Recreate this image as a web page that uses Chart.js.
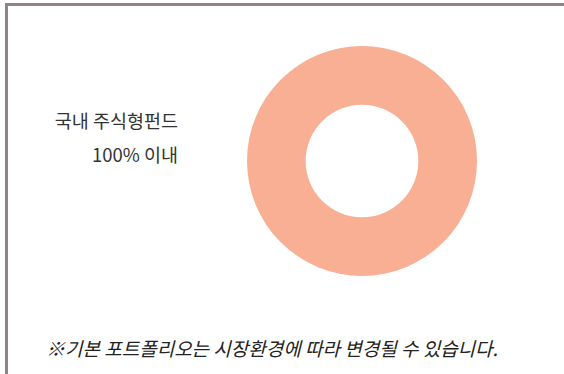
<!DOCTYPE html>
<html>
<head>
<meta charset="utf-8">
<script src="https://cdn.jsdelivr.net/npm/chart.js@4/dist/chart.umd.min.js"></script>
<style>
  html, body { margin: 0; padding: 0; background: #fff; }
  body { width: 564px; height: 374px; position: relative; overflow: hidden; }
  .frame { position: absolute; left: 5px; top: 3px; width: 562px; height: 368px;
           border-top: 3px solid #928486; border-left: 3px solid #928486;
           border-bottom: 2px solid #ececec; box-sizing: content-box; }
  .wrap { position: absolute; left: 247px; top: 46px; width: 230px; height: 230px; }
  .label { position: absolute; left: 18px; width: 160px; text-align: right;
           font-family: "Noto Sans CJK KR", "Noto Sans", sans-serif; font-size: 18.5px;
           color: #333; line-height: 22px; }
  .note { position: absolute; left: 46px; top: 336px; white-space: nowrap;
          font-family: "Noto Sans CJK KR", "Noto Sans", sans-serif; font-size: 19px;
          font-style: italic; color: #222; line-height: 24px; }
</style>
</head>
<body>
<div class="frame"></div>
<div class="label" style="top:109px">국내 주식형펀드</div>
<div class="label" style="top:143px">100% 이내</div>
<div class="note">※기본 포트폴리오는 시장환경에 따라 변경될 수 있습니다.</div>
<div class="wrap"><canvas id="c" width="230" height="230"></canvas></div>
<script>
const categories = ['국내 주식형펀드'];
const shares = [100];
const sliceColors = ['#F9AF93'];

new Chart(document.getElementById('c').getContext('2d'), {
    type: 'doughnut',
    data: {
        labels: categories,
        datasets: [{ data: shares, backgroundColor: sliceColors, borderWidth: 0 }]
    },
    options: {
        responsive: false,
        animation: false,
        cutout: '49%',
        layout: { padding: 0 },
        plugins: { legend: { display: false }, tooltip: { enabled: false } }
    }
});
</script>
</body>
</html>
